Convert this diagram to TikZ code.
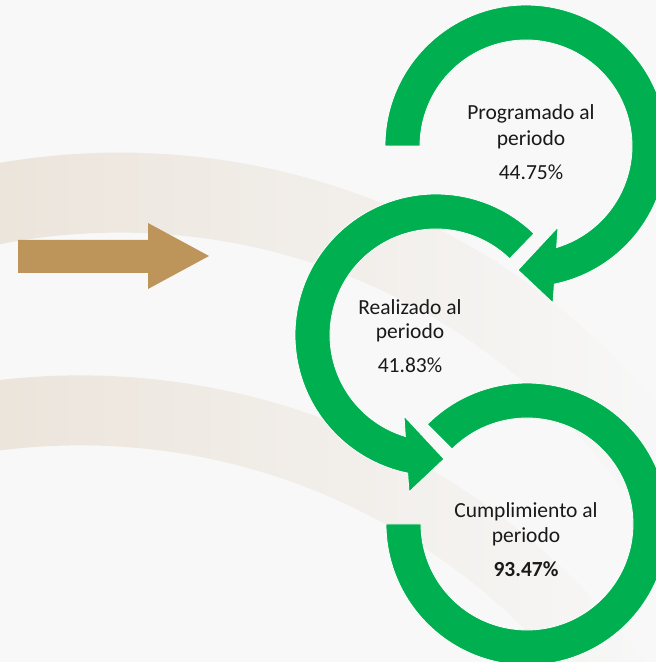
\documentclass[tikz,border=0pt]{standalone}
\usepackage{fontspec}
\setmainfont{Carlito}
\usetikzlibrary{fadings}
\definecolor{ringgreen}{RGB}{0,176,80}
\definecolor{goldarrow}{RGB}{189,149,90}
\definecolor{beigeband}{RGB}{236,229,220}
\definecolor{bgwhite}{RGB}{248,248,248}
\definecolor{textdark}{RGB}{26,26,26}
\begin{tikzfadingfrompicture}[name=bandfade]
  \shade[left color=transparent!0, middle color=transparent!20, right color=transparent!100]
    (0pt,0pt) rectangle (656pt,662pt);
\end{tikzfadingfrompicture}
\begin{document}
\begin{tikzpicture}[x=1pt,y=1pt,
  ring/.style={fill=ringgreen, draw=white, line width=0.8pt, line join=miter},
  lbl/.style={anchor=base, inner sep=0pt, text=textdark, font=\fontsize{21.5}{26}\selectfont},
  band/.style={fill=beigeband, even odd rule, path fading=bandfade, fit fading=false,
    fading transform={shift={(328,331)}}}
]
\useasboundingbox (0,0) rectangle (656,662);
\clip (0,0) rectangle (656,662);
% background
\fill[bgwhite] (0,0) rectangle (656,662);
\path[band] (120,-190.6) circle[radius=700] (120,-190.6) circle[radius=620];
\path[band] (80,-413.4) circle[radius=700] (80,-413.4) circle[radius=630];
% gold arrow
\fill[goldarrow] (18,389) -- (148,389) -- (148,373) -- (209,406) -- (148,439) -- (148,422) -- (18,422) -- cycle;
% ring 1 (Programado)
\begin{scope}[shift={(526,516)}]
  \path[ring] (180:141) arc[start angle=180, end angle=-78.4, radius=141]
    -- (27,-157) -- (-8,-124) -- (32,-81) -- (-73.2:106)
    arc[start angle=-73.2, end angle=180, radius=106] -- cycle;
\end{scope}
% ring 2 (Realizado)
\begin{scope}[shift={(436,327)}]
  \path[ring] (46:141) arc[start angle=46, end angle=258.4, radius=141]
    -- (-27,-157) -- (8,-124) -- (-32,-81) -- (253.2:106)
    arc[start angle=253.2, end angle=46, radius=106] -- cycle;
\end{scope}
% ring 3 (Cumplimiento)
\begin{scope}[shift={(527,138)}]
  \path[ring] (135:141) arc[start angle=135, end angle=-180, radius=141]
    -- (180:106) arc[start angle=-180, end angle=135, radius=106] -- cycle;
\end{scope}
% texts
\node[lbl] (p1) at (531,542) {Programado al};
\node[lbl] (p2) at (531,516) {periodo};
\node[lbl] (p3) at (531,482) {44.75\%};
\node[lbl] (r1) at (410,347) {Realizado al};
\node[lbl] (r2) at (410,323) {periodo};
\node[lbl] (r3) at (410,289) {41.83\%};
\node[lbl] (c1) at (526,144) {Cumplimiento al};
\node[lbl] (c2) at (526,119) {periodo};
\node[lbl] (c3) at (526,85) {\bfseries 93.47\%};
\end{tikzpicture}
\end{document}
